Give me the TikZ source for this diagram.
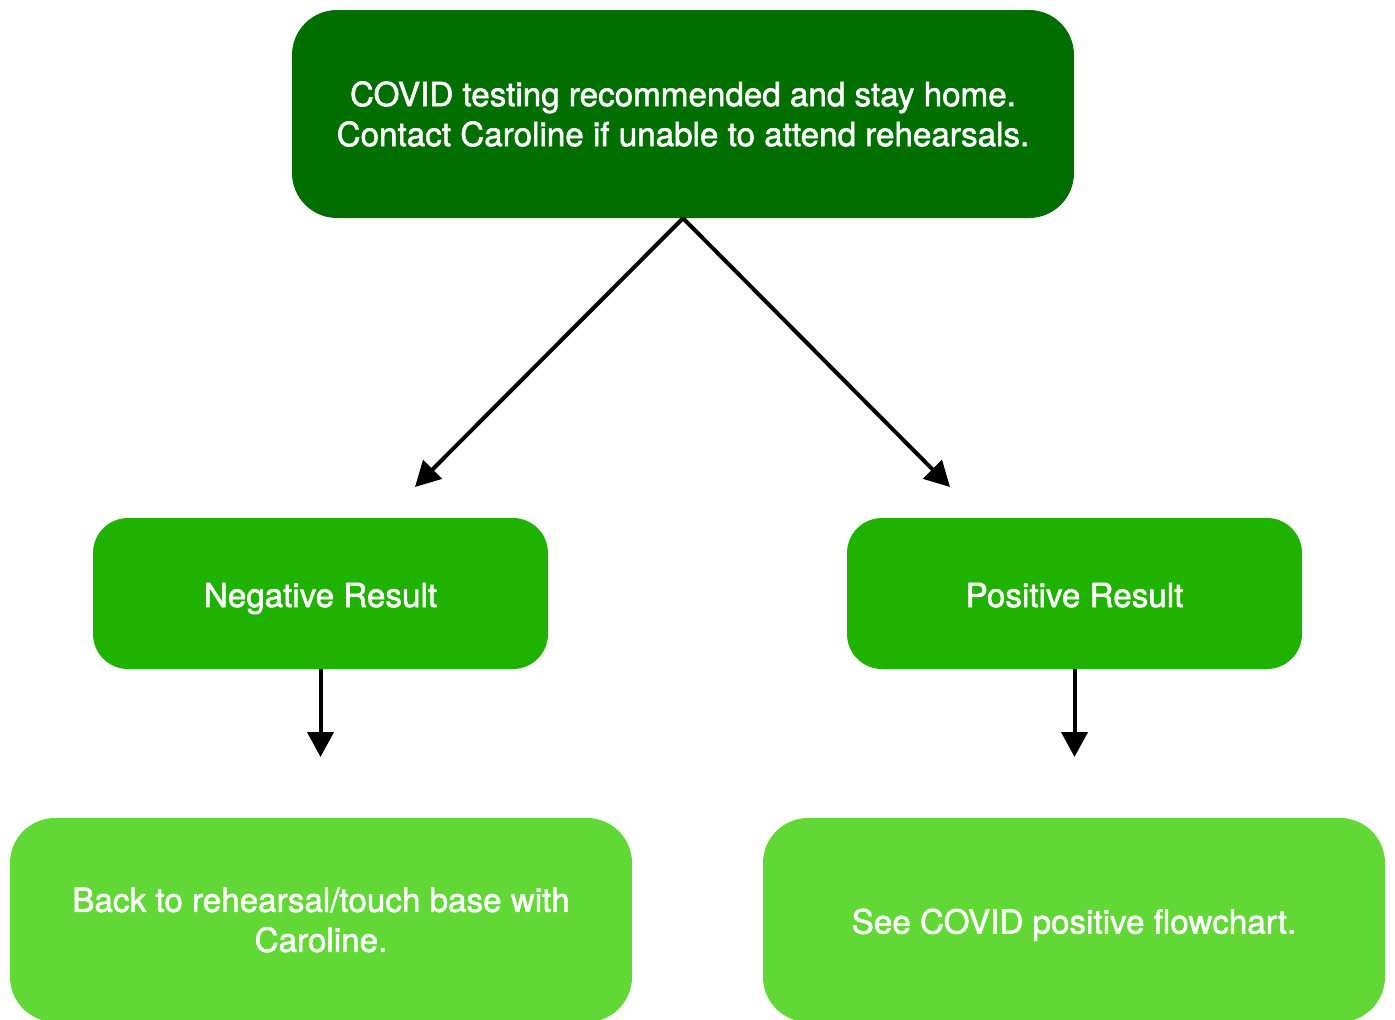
\documentclass[tikz,border=0pt]{standalone}
\usepackage{fontspec}
\setmainfont{TeX Gyre Heros}
\newfontfamily\medfont{TeX Gyre Heros}[UprightFeatures={FakeBold=1.6}]
\usetikzlibrary{arrows.meta, positioning}
\definecolor{darkgrn}{HTML}{006F00}
\definecolor{midgrn}{HTML}{1FB200}
\definecolor{lightgrn}{HTML}{61D836}

\begin{document}
\begin{tikzpicture}[
    x=1pt, y=-1pt,
    every node/.style={font=\medfont\fontsize{33.2}{40}\selectfont, text=white, align=center},
    oneline/.style={text height=30pt, text depth=3pt},
    topbox/.style={rectangle, rounded corners=45pt, fill=darkgrn, minimum width=782pt, minimum height=208pt},
    result/.style={rectangle, rounded corners=35pt, fill=midgrn, minimum width=455pt, minimum height=151pt, oneline},
    action/.style={rectangle, rounded corners=45pt, fill=lightgrn, minimum width=622pt, minimum height=204pt},
    arrow/.style={-{Triangle[length=25pt, width=26pt]}, line width=4pt}
]
    \useasboundingbox (0,0) rectangle (1395,1020);

    % Top
    \node[topbox] (test) at (683,114) {COVID testing recommended and stay home.\\Contact Caroline if unable to attend rehearsals.};

    % Results
    \node[result] (neg) at (320.5,593.5) {Negative Result};
    \node[result] (pos) at (1074.5,593.5) {Positive Result};

    % Next steps
    \node[action] (back) at (321,920) {Back to rehearsal/touch base with\\Caroline.};
    \node[action, oneline] (see) at (1074,920) {See COVID positive flowchart.};

    % Free arrow ends
    \coordinate (negtip) at (415,487);
    \coordinate (postip) at (950,487);
    \coordinate (backtip) at (320.5,757);
    \coordinate (seetip) at (1074.5,757);

    % Arrows
    \draw[arrow] (test.south) -- (negtip);
    \draw[arrow] (test.south) -- (postip);
    \draw[arrow] (neg.south) -- (backtip);
    \draw[arrow] (pos.south) -- (seetip);

\end{tikzpicture}
\end{document}
